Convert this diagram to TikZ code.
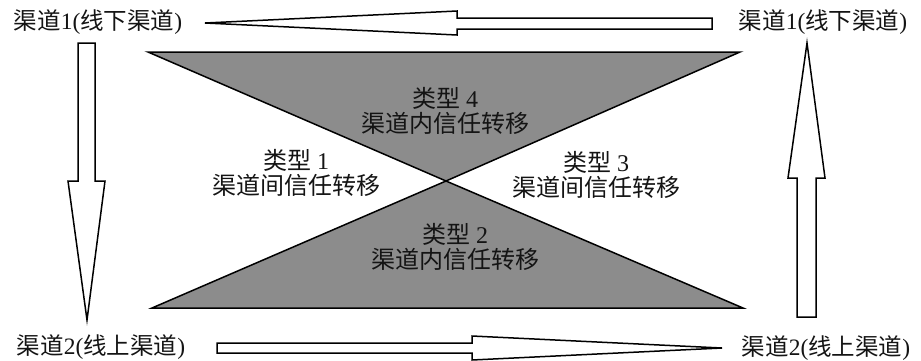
\documentclass[tikz,border=0pt]{standalone}
\usepackage{fontspec}
\setmainfont{Liberation Serif}
\newfontfamily\cjk{Noto Sans CJK SC}
\newcommand{\zh}[1]{{\cjk #1}}
\begin{document}
\begin{tikzpicture}[x=1pt,y=-1pt,
  lbl/.style={inner sep=0pt,text=black!92,font=\fontsize{23.5}{26}\selectfont},
  mid/.style={inner sep=0pt,align=center,text=black!92,font=\fontsize{24}{25.5}\selectfont},
  blockarrow/.style={draw=black,fill=white,line width=1.5pt,line join=miter},
  tri/.style={draw=black,fill=black!45,line width=1.5pt,line join=miter}]
\useasboundingbox (0,0) rectangle (921,360);
% hourglass
\coordinate (X) at (446,181);
\draw[tri] (148,52) -- (740,52) -- (X) -- cycle;
\draw[tri] (X) -- (743,308) -- (152,308) -- cycle;
% labels
\node[lbl] (tl) at (98,22) {\zh{渠道}1(\zh{线下渠道})};
\node[lbl] (tr) at (823,22) {\zh{渠道}1(\zh{线下渠道})};
\node[lbl] (bl) at (101,347) {\zh{渠道}2(\zh{线上渠道})};
\node[lbl] (br) at (826,348) {\zh{渠道}2(\zh{线上渠道})};
\node[mid] (t4) at (445,111) {\zh{类型} 4\\\zh{渠道内信任转移}};
\node[mid] (t1) at (296,173) {\zh{类型} 1\\\zh{渠道间信任转移}};
\node[mid] (t3) at (596,175) {\zh{类型} 3\\\zh{渠道间信任转移}};
\node[mid] (t2) at (455,247) {\zh{类型} 2\\\zh{渠道内信任转移}};
% block arrows
% top: from right label toward left label
\draw[blockarrow] (205,23) -- (457,11) -- (457,18) -- (712,18) -- (712,29) -- (457,29) -- (457,35) -- cycle;
% bottom: from left label toward right label
\draw[blockarrow] (722,348) -- (472,336) -- (472,343) -- (217,343) -- (217,353) -- (472,353) -- (472,360) -- cycle;
% left: down
\draw[blockarrow] (87,320) -- (68,181) -- (78,181) -- (78,43) -- (95,43) -- (95,181) -- (105,181) -- cycle;
% right: up
\draw[blockarrow] (807,43) -- (788,178) -- (797,178) -- (797,317) -- (816,317) -- (816,178) -- (825,178) -- cycle;
\end{tikzpicture}
\end{document}
